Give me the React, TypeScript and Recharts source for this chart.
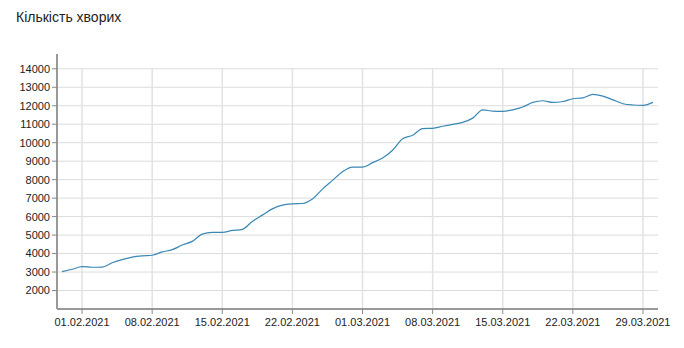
import React from "react";
import { LineChart, Line, XAxis, YAxis, ReferenceLine } from "recharts";

const dates: string[] = [
  "30.01.2021", "31.01.2021",
  "01.02.2021", "02.02.2021", "03.02.2021", "04.02.2021", "05.02.2021", "06.02.2021", "07.02.2021",
  "08.02.2021", "09.02.2021", "10.02.2021", "11.02.2021", "12.02.2021", "13.02.2021", "14.02.2021",
  "15.02.2021", "16.02.2021", "17.02.2021", "18.02.2021", "19.02.2021", "20.02.2021", "21.02.2021",
  "22.02.2021", "23.02.2021", "24.02.2021", "25.02.2021", "26.02.2021", "27.02.2021", "28.02.2021",
  "01.03.2021", "02.03.2021", "03.03.2021", "04.03.2021", "05.03.2021", "06.03.2021", "07.03.2021",
  "08.03.2021", "09.03.2021", "10.03.2021", "11.03.2021", "12.03.2021", "13.03.2021", "14.03.2021",
  "15.03.2021", "16.03.2021", "17.03.2021", "18.03.2021", "19.03.2021", "20.03.2021", "21.03.2021",
  "22.03.2021", "23.03.2021", "24.03.2021", "25.03.2021", "26.03.2021", "27.03.2021", "28.03.2021",
  "29.03.2021", "30.03.2021",
];

const patients: number[] = [
  3020, 3150,
  3290, 3260, 3270, 3500, 3670, 3810, 3880,
  3910, 4090, 4210, 4460, 4660, 5050, 5150,
  5150, 5250, 5310, 5740, 6080, 6420, 6620,
  6690, 6710, 6950, 7490, 7960, 8430, 8680,
  8680, 8920, 9170, 9590, 10210, 10400, 10760,
  10780, 10890, 10990, 11100, 11330, 11780, 11710,
  11690, 11780, 11930, 12180, 12270, 12180, 12230,
  12380, 12430, 12610, 12520, 12320, 12110, 12040,
  12020, 12180,
];

const xTickLabels: string[] = [
  "01.02.2021", "08.02.2021", "15.02.2021", "22.02.2021", "01.03.2021",
  "08.03.2021", "15.03.2021", "22.03.2021", "29.03.2021",
];

const yTicks: number[] = [2000, 3000, 4000, 5000, 6000, 7000, 8000, 9000, 10000, 11000, 12000, 13000, 14000];

const title = "Кількість хворих";

const data = dates.map((d, i) => ({ idx: i, date: d, value: patients[i] }));
const xTicks = xTickLabels.map((l) => dates.indexOf(l));
const yMin = 1000;
const yMax = 14800;
const xMin = -0.5;
const xMax = dates.length - 0.5;

const font = "Arial, 'Liberation Sans', sans-serif";

export default function App() {
  return (
    <div style={{ position: "absolute", left: 0, top: 0, width: 684, height: 348, background: "#fff" }}>
      <div
        style={{
          position: "absolute",
          left: 16,
          top: 9,
          fontFamily: font,
          fontSize: 14,
          color: "#222",
          lineHeight: "16px",
        }}
      >
        {title}
      </div>
      <LineChart
        width={684}
        height={348}
        data={data}
        margin={{ top: 54, right: 26, bottom: 9, left: 0 }}
      >
        {yTicks.map((t) => (
          <ReferenceLine
            key={"h" + t}
            segment={[{ x: xMin, y: t }, { x: xMax, y: t }]}
            stroke="#dcdcdc"
            strokeWidth={1}
            ifOverflow="visible"
          />
        ))}
        {xTicks.map((t) => (
          <ReferenceLine
            key={"v" + t}
            segment={[{ x: t, y: yMin }, { x: t, y: 14000 }]}
            stroke="#e2e2e2"
            strokeWidth={1.5}
            ifOverflow="visible"
          />
        ))}
        <XAxis
          type="number"
          dataKey="idx"
          domain={[xMin, xMax]}
          ticks={xTicks}
          tickFormatter={(v: number) => dates[v]}
          interval={0}
          height={30}
          tickSize={5}
          tickMargin={4}
          axisLine={{ stroke: "#999", strokeWidth: 2 }}
          tickLine={{ stroke: "#888", strokeWidth: 1 }}
          tick={{ fill: "#222", fontSize: 11, fontFamily: font }}
        />
        <YAxis
          type="number"
          domain={[yMin, yMax]}
          ticks={yTicks}
          interval={0}
          width={57}
          tickSize={5}
          tickMargin={2}
          axisLine={{ stroke: "#999", strokeWidth: 2 }}
          tickLine={{ stroke: "#888", strokeWidth: 1 }}
          tick={{ fill: "#222", fontSize: 11, fontFamily: font }}
        />
        <Line
          type="monotone"
          dataKey="value"
          stroke="#3a88b5"
          strokeWidth={1.2}
          dot={false}
          isAnimationActive={false}
        />
      </LineChart>
    </div>
  );
}
